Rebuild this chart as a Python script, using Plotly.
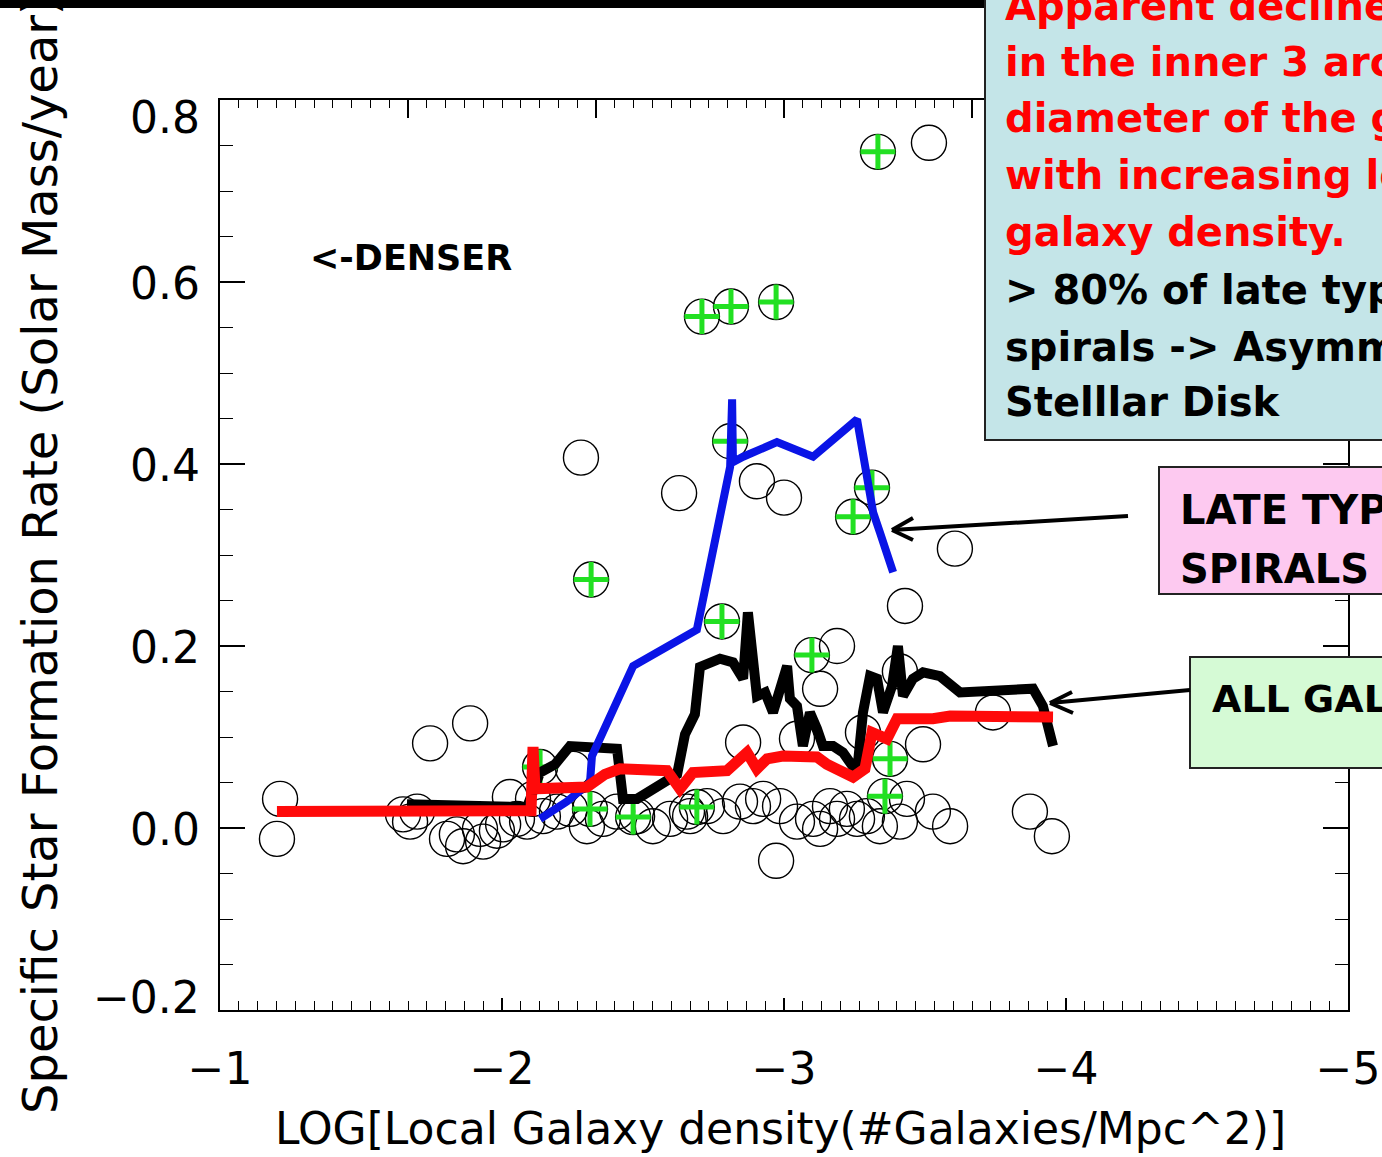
import plotly.graph_objects as go

# ---------------- data ----------------
# open circles: all galaxies that are not late type spirals
other_x = [-3.514, -2.280, -2.628, -2.904, -3.000, -3.606, -3.429, -3.188, -3.128, -3.411,
           -1.887, -1.745, -1.213, -1.202, -2.855, -3.046, -3.280, -3.493, -3.741, -3.872,
           -3.950, -2.972, -3.528, -3.589, -2.252,
           -1.649, -1.674, -1.699, -1.862, -1.840, -1.922, -1.982, -2.004, -2.053, -2.089,
           -2.028, -2.110, -2.145, -2.195, -2.241, -2.301, -2.358, -2.408, -2.479, -2.535,
           -2.596, -2.656, -2.667, -2.727, -2.784, -2.844, -2.890, -2.926, -2.986, -3.046,
           -3.103, -3.128, -3.163, -3.188, -3.223, -3.259, -3.294, -3.340, -3.411, -3.436,
           -1.805, -1.933]
other_y = [0.753, 0.407, 0.368, 0.381, 0.363, 0.307, 0.244, 0.200, 0.153, 0.172,
           0.115, 0.093, 0.032, -0.012, 0.094, 0.098, 0.105, 0.092, 0.127, 0.018,
           -0.009, -0.036, 0.018, 0.002, 0.065,
           0.015, 0.007, 0.018, -0.020, -0.007, -0.001, -0.003, 0.004, 0.010, 0.007,
           0.034, 0.032, 0.013, 0.018, 0.021, 0.002, 0.010, 0.018, 0.013, 0.002,
           0.010, 0.018, 0.013, 0.024, 0.013, 0.029, 0.024, 0.032, 0.024, 0.007,
           0.010, -0.001, 0.024, 0.010, 0.021, 0.010, 0.013, 0.002, 0.007, 0.032,
           -0.012, -0.015]

# late type spirals (circle with green cross)
late_x = [-3.333, -2.709, -2.812, -2.972, -2.809, -3.312, -3.245, -2.316, -2.780, -3.099,
          -2.135, -2.312, -2.465, -2.691, -3.376, -3.358]
late_y = [0.743, 0.562, 0.573, 0.578, 0.425, 0.374, 0.342, 0.273, 0.227, 0.190,
          0.067, 0.021, 0.012, 0.023, 0.076, 0.035]

# running curve, all galaxies (red)
red_x = [-1.202, -2.089, -2.103, -2.110, -2.117, -2.301, -2.365, -2.418, -2.585, -2.631,
         -2.677, -2.798, -2.869, -2.904, -2.940, -2.996, -3.117, -3.152, -3.245, -3.287,
         -3.312, -3.365, -3.401, -3.528, -3.589, -3.954]
red_y = [0.018, 0.018, 0.019, 0.089, 0.043, 0.045, 0.059, 0.065, 0.063, 0.043,
         0.061, 0.063, 0.083, 0.065, 0.076, 0.079, 0.078, 0.070, 0.056, 0.065,
         0.105, 0.098, 0.120, 0.120, 0.123, 0.122]

# running curve, all galaxies (black)
black_x = [-1.663, -2.018, -2.089, -2.135, -2.188, -2.241, -2.408, -2.429, -2.479, -2.621,
           -2.649, -2.684, -2.702, -2.773, -2.819, -2.855, -2.872, -2.904, -2.933, -2.961,
           -3.011, -3.021, -3.046, -3.067, -3.092, -3.117, -3.138, -3.174, -3.209, -3.259,
           -3.280, -3.305, -3.330, -3.351, -3.383, -3.404, -3.422, -3.457, -3.493, -3.553,
           -3.599, -3.624, -3.883, -3.918, -3.954]
black_y = [0.026, 0.025, 0.023, 0.061, 0.070, 0.090, 0.087, 0.032, 0.032, 0.059,
           0.103, 0.125, 0.177, 0.186, 0.182, 0.164, 0.237, 0.145, 0.149, 0.127,
           0.178, 0.142, 0.134, 0.090, 0.127, 0.109, 0.090, 0.090, 0.083, 0.061,
           0.127, 0.167, 0.164, 0.127, 0.156, 0.200, 0.145, 0.164, 0.171, 0.167,
           0.156, 0.149, 0.153, 0.134, 0.090]

# running curve, late type spirals (blue)
blue_x = [-2.135, -2.230, -2.312, -2.319, -2.465, -2.691, -2.809, -2.816, -2.819, -2.855,
          -2.975, -3.103, -3.259, -3.294, -3.316, -3.340, -3.387]
blue_y = [0.010, 0.029, 0.050, 0.079, 0.178, 0.218, 0.397, 0.471, 0.402, 0.408,
          0.424, 0.408, 0.449, 0.391, 0.347, 0.325, 0.281]

x_ticks = [-1, -2, -3, -4, -5]
x_tick_text = ["\u22121", "\u22122", "\u22123", "\u22124", "\u22125"]
y_ticks = [-0.2, 0.0, 0.2, 0.4, 0.6, 0.8]
y_tick_text = ["\u22120.2", "0.0", "0.2", "0.4", "0.6", "0.8"]

box_lines_red = ["Apparent decline in SFR", "in the inner 3 arcsec", "diameter of the galaxy",
                 "with increasing local", "galaxy density."]
box_lines_black = ["> 80% of late type", "spirals -> Asymmetric", "Stelllar Disk"]

# ---------------- layout helpers (screen pixel -> paper) ----------------
W, H = 1382, 1157
ML, MR, MT, MB = 220, 34, 100, 147
PW, PH = W - ML - MR, H - MT - MB


def px(xp):
    return (xp - ML) / PW


def py(yp):
    return (H - MB - yp) / PH


fig = go.Figure()

fig.add_trace(go.Scatter(x=other_x + late_x, y=other_y + late_y, mode="markers",
                         marker=dict(symbol="circle-open", size=35, color="black",
                                     line=dict(width=1.4)),
                         hoverinfo="skip", showlegend=False))
fig.add_trace(go.Scatter(x=late_x, y=late_y, mode="markers",
                         marker=dict(symbol="cross-thin-open", size=25, color="#22e022",
                                     line=dict(width=5, color="#22e022")),
                         hoverinfo="skip", showlegend=False))
fig.add_trace(go.Scatter(x=black_x, y=black_y, mode="lines",
                         line=dict(color="black", width=10), showlegend=False))
fig.add_trace(go.Scatter(x=blue_x, y=blue_y, mode="lines",
                         line=dict(color="#0a14e6", width=8), showlegend=False))
fig.add_trace(go.Scatter(x=red_x, y=red_y, mode="lines",
                         line=dict(color="#ff0a0a", width=11), showlegend=False))
# carrier for the top axis (invisible)
fig.add_trace(go.Scatter(x=red_x, y=red_y, mode="lines", xaxis="x2", opacity=0,
                         line=dict(width=0), hoverinfo="skip", showlegend=False))

tickfont = dict(family="DejaVu Sans", size=44, color="black")

fig.update_layout(
    width=W, height=H,
    margin=dict(l=ML, r=MR, t=MT, b=MB, pad=0, autoexpand=False),
    paper_bgcolor="white", plot_bgcolor="white",
    xaxis=dict(range=[-1, -5], tickmode="array", tickvals=x_ticks, ticktext=x_tick_text,
               ticks="inside", ticklen=12, tickwidth=1.5, tickcolor="black", automargin=False,
               showline=True, linecolor="black", linewidth=2, mirror=False,
               showgrid=False, zeroline=False, tickfont=tickfont, ticklabelstandoff=19,
               minor=dict(tickmode="linear", tick0=-1, dtick=1 / 15, ticks="inside", ticklen=9,
                          tickwidth=1.3, tickcolor="black", showgrid=False)),
    xaxis2=dict(range=[-1, -5], overlaying="x", side="top", anchor="y", automargin=False,
                tickmode="linear", tick0=-1, dtick=2 / 3, ticks="inside", ticklen=18,
                tickwidth=1.5, tickcolor="black", showticklabels=False,
                showline=True, linecolor="black", linewidth=2, showgrid=False, zeroline=False,
                minor=dict(tickmode="linear", tick0=-1, dtick=1 / 15, ticks="inside", ticklen=8,
                           tickwidth=1.3, tickcolor="black", showgrid=False)),
    yaxis=dict(range=[-0.2, 0.8], tickmode="array", tickvals=y_ticks, showticklabels=False,
               ticks="inside", ticklen=25, tickwidth=1.5, tickcolor="black", automargin=False,
               showline=True, linecolor="black", linewidth=2, mirror="ticks",
               showgrid=False, zeroline=False,
               minor=dict(tickmode="linear", tick0=0, dtick=0.05, ticks="inside", ticklen=13,
                          tickwidth=1.3, tickcolor="black", showgrid=False)),
)

shapes = []
# black bar at the top of the slide
shapes.append(dict(type="rect", xref="paper", yref="paper", x0=px(-5), x1=px(985),
                   y0=py(8), y1=py(-5), fillcolor="black", line=dict(width=0), layer="above"))
# teal text box
shapes.append(dict(type="rect", xref="paper", yref="paper", x0=px(985), x1=px(1400),
                   y0=py(440), y1=py(-10), fillcolor="#c4e5e8",
                   line=dict(color="#222222", width=2), layer="above"))
# pink box
shapes.append(dict(type="rect", xref="paper", yref="paper", x0=px(1159), x1=px(1400),
                   y0=py(594), y1=py(467), fillcolor="#fdc9f0",
                   line=dict(color="#222222", width=2), layer="above"))
# green box
shapes.append(dict(type="rect", xref="paper", yref="paper", x0=px(1190), x1=px(1400),
                   y0=py(768), y1=py(657), fillcolor="#d5fad5",
                   line=dict(color="#222222", width=2), layer="above"))

# arrows (line + two barbs)
for (tx, ty), (sx, sy), b1, b2 in [((892, 530), (1128, 516), (913, 518), (913, 540)),
                                   ((1050, 703), (1190, 690), (1072, 692), (1073, 713))]:
    for (ax_, ay_) in [(sx, sy), b1, b2]:
        shapes.append(dict(type="line", xref="paper", yref="paper",
                           x0=px(tx), y0=py(ty), x1=px(ax_), y1=py(ay_),
                           line=dict(color="black", width=4), layer="above"))
fig.update_layout(shapes=shapes)

annots = []

# y tick labels (end labels nudged inward as in the original)
for val, txt in zip(y_ticks, y_tick_text):
    shift = -17 if val == max(y_ticks) else (13 if val == min(y_ticks) else -1)
    annots.append(dict(text=txt, xref="paper", yref="y", x=px(202), y=val, yshift=shift,
                       xanchor="right", yanchor="middle", showarrow=False, font=tickfont))


def label(text, xp, yp, color="black", size=40):
    annots.append(dict(text=text, xref="paper", yref="paper", x=px(xp), y=py(yp),
                       xanchor="left", yanchor="middle", showarrow=False,
                       font=dict(family="DejaVu Sans", size=size, color=color, weight="bold")))


row_y = [6, 62, 118, 175, 232, 290, 347, 402]
for i, t in enumerate(box_lines_red):
    label(t, 1003, row_y[i], color="#ff0000")
for j, t in enumerate(box_lines_black):
    label(t, 1003, row_y[len(box_lines_red) + j])

label("LATE TYPE", 1178, 510)
label("SPIRALS", 1178, 569)
label("ALL GALAXIES", 1210, 699, size=38)
label("&lt;-DENSER", 308, 258, size=35)

# axis titles
annots.append(dict(text="LOG[Local Galaxy density(#Galaxies/Mpc^2)]", xref="paper", yref="paper",
                   x=px(780), y=py(1128), xanchor="center", yanchor="middle", showarrow=False,
                   font=dict(family="DejaVu Sans", size=44, color="black")))
annots.append(dict(text="Specific Star Formation Rate (Solar Mass/year)", xref="paper", yref="paper",
                   x=px(40), y=py(1116), xanchor="center", yanchor="bottom", textangle=-90,
                   showarrow=False, font=dict(family="DejaVu Sans", size=48, color="black")))
fig.update_layout(annotations=annots)

# let the figure fill the page exactly (no default body margin), no mode bar
fig.write_html("out.html", config={"displayModeBar": False},
               post_script="document.body.style.margin='0px';document.body.style.overflow='hidden';")
